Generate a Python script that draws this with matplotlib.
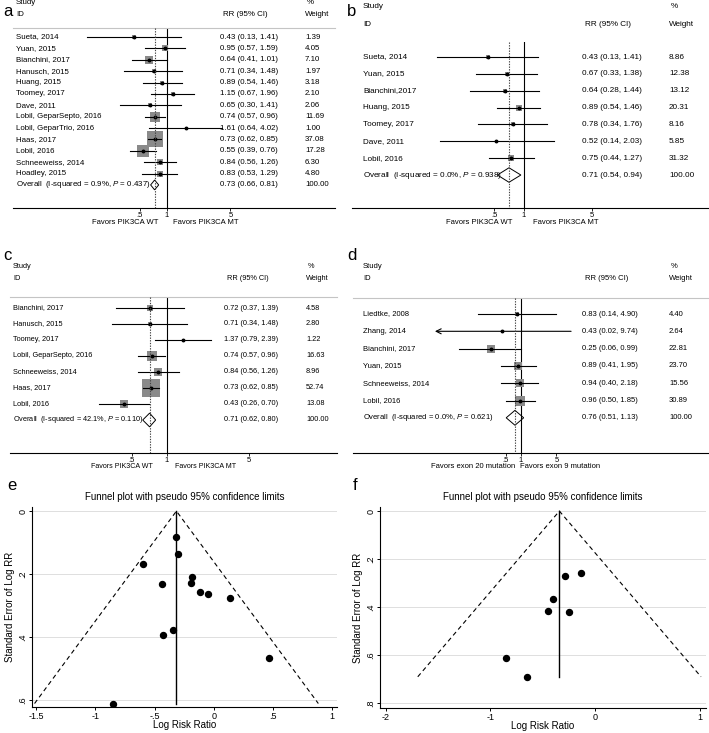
import numpy as np
import matplotlib
matplotlib.use('Agg')
import matplotlib.pyplot as plt
import matplotlib.transforms as mtransforms
from matplotlib.patches import Polygon
from matplotlib.ticker import NullLocator

plt.rcParams['font.family'] = ['Liberation Sans', 'DejaVu Sans']
plt.rcParams['mathtext.fontset'] = 'custom'
plt.rcParams['mathtext.it'] = 'Liberation Sans:italic'
plt.rcParams['mathtext.rm'] = 'Liberation Sans'

# ---- data: forest plots ----
a_studies = ["Sueta, 2014", "Yuan, 2015", "Bianchini, 2017", "Hanusch, 2015", "Huang, 2015",
             "Toomey, 2017", "Dave, 2011", "Lobil, GeparSepto, 2016", "Lobil, GeparTrio, 2016",
             "Haas, 2017", "Lobil, 2016", "Schneeweiss, 2014", "Hoadley, 2015"]
a_rr = [0.43, 0.95, 0.64, 0.71, 0.89, 1.15, 0.65, 0.74, 1.61, 0.73, 0.55, 0.84, 0.83]
a_lo = [0.13, 0.57, 0.41, 0.34, 0.54, 0.67, 0.30, 0.57, 0.64, 0.62, 0.39, 0.56, 0.53]
a_hi = [1.41, 1.59, 1.01, 1.48, 1.46, 1.96, 1.41, 0.96, 4.02, 0.85, 0.76, 1.26, 1.29]
a_w = [1.39, 4.05, 7.10, 1.97, 3.18, 2.10, 2.06, 11.69, 1.00, 37.08, 17.28, 6.30, 4.80]
a_overall = [0.73, 0.66, 0.81]
a_het = ["0.9%", "0.437"]

b_studies = ["Sueta, 2014", "Yuan, 2015", "Bianchini,2017", "Huang, 2015", "Toomey, 2017",
             "Dave, 2011", "Lobil, 2016"]
b_rr = [0.43, 0.67, 0.64, 0.89, 0.78, 0.52, 0.75]
b_lo = [0.13, 0.33, 0.28, 0.54, 0.34, 0.14, 0.44]
b_hi = [1.41, 1.38, 1.44, 1.46, 1.76, 2.03, 1.27]
b_w = [8.86, 12.38, 13.12, 20.31, 8.16, 5.85, 31.32]
b_overall = [0.71, 0.54, 0.94]
b_het = ["0.0%", "0.938"]

c_studies = ["Bianchini, 2017", "Hanusch, 2015", "Toomey, 2017", "Lobil, GeparSepto, 2016",
             "Schneeweiss, 2014", "Haas, 2017", "Lobil, 2016"]
c_rr = [0.72, 0.71, 1.37, 0.74, 0.84, 0.73, 0.43]
c_lo = [0.37, 0.34, 0.79, 0.57, 0.56, 0.62, 0.26]
c_hi = [1.39, 1.48, 2.39, 0.96, 1.26, 0.85, 0.70]
c_w = [4.58, 2.80, 1.22, 16.63, 8.96, 52.74, 13.08]
c_overall = [0.71, 0.62, 0.80]
c_het = ["42.1%", "0.110"]

d_studies = ["Liedtke, 2008", "Zhang, 2014", "Bianchini, 2017", "Yuan, 2015",
             "Schneeweiss, 2014", "Lobil, 2016"]
d_rr = [0.83, 0.43, 0.25, 0.89, 0.94, 0.96]
d_lo = [0.14, 0.02, 0.06, 0.41, 0.40, 0.50]
d_hi = [4.90, 9.74, 0.99, 1.95, 2.18, 1.85]
d_w = [4.40, 2.64, 22.81, 23.70, 15.56, 30.89]
d_overall = [0.76, 0.51, 1.13]
d_het = ["0.0%", "0.621"]

favors_pik = ["Favors PIK3CA WT", "Favors PIK3CA MT"]
favors_exon = ["Favors exon 20 mutation", "Favors exon 9 mutation"]
forest_ticks = [0.5, 1, 5]
forest_ticklabels = [".5", "1", "5"]

# ---- data: funnel plots ----
e_logrr = [-0.32, -0.30, -0.60, -0.18, -0.44, -0.19, -0.12, -0.05, 0.14, -0.34, -0.43, 0.47, -0.85]
e_se = [0.083, 0.135, 0.168, 0.208, 0.230, 0.227, 0.256, 0.262, 0.275, 0.377, 0.394, 0.468, 0.611]
e_center = -0.315
f_logrr = [-0.13, -0.29, -0.40, -0.45, -0.25, -0.85, -0.65]
f_se = [0.256, 0.270, 0.368, 0.418, 0.419, 0.610, 0.690]
f_center = -0.34

W, H = 709, 733
fig = plt.figure(figsize=(W / 100, H / 100), dpi=100)


def add_ax(x0, y0, x1, y1):
    return fig.add_axes([x0 / W, 1 - y1 / H, (x1 - x0) / W, (y1 - y0) / H])


def ftext(x, y, s, **kw):
    kw.setdefault('va', 'center')
    fig.text(x / W, 1 - y / H, s, **kw)


def forest(studies, rr, lo, hi, w, ov, het, favors, box, x_one, scale, row0, step, box_k,
           cols, head, fav, fs, fav_fs, header_line=True, arrow_below=None):
    x0, y_top, x1, y_bot = box
    ax = add_ax(x0, y_top, x1, y_bot)
    ax.set_xscale('log')
    ax.set_xlim(np.exp((x0 - x_one) / scale), np.exp((x1 - x_one) / scale))
    ax.set_ylim(y_bot, y_top)
    tr = mtransforms.blended_transform_factory(fig.transFigure, ax.transData)
    ys = row0 + step * np.arange(len(studies) + 1)

    for i in range(len(studies)):
        y = ys[i]
        side = box_k * np.sqrt(w[i]) * 0.72
        ax.scatter(rr[i], y, s=side ** 2, marker='s', color='#8a8a8a', linewidths=0, zorder=2)
        if arrow_below is not None and lo[i] < arrow_below:
            ax.annotate('', xy=(lo[i], y), xytext=(hi[i], y),
                        arrowprops=dict(arrowstyle='->', lw=0.8, color='black',
                                        shrinkA=0, shrinkB=0, mutation_scale=9))
        else:
            ax.plot([lo[i], hi[i]], [y, y], color='black', lw=0.8, zorder=3)
        ax.plot(rr[i], y, 'o', ms=1.8, color='black', zorder=4)
        ax.text(cols[0] / W, y, studies[i], transform=tr, va='center', fontsize=fs)
        ax.text(cols[1] / W, y, f"{rr[i]:.2f} ({lo[i]:.2f}, {hi[i]:.2f})", transform=tr,
                va='center', fontsize=fs)
        ax.text(cols[2] / W, y, f"{w[i]:.2f}", transform=tr, va='center', fontsize=fs)

    yo = ys[-1]
    est, l, h = ov
    hh = 0.43 * step
    ax.add_patch(Polygon([(l, yo), (est, yo - hh), (h, yo), (est, yo + hh)], closed=True,
                         fc='none', ec='black', lw=0.7, zorder=5))
    ax.text(cols[0] / W, yo, f"Overall  (I-squared = {het[0]}, $P$ = {het[1]})",
            transform=tr, va='center', fontsize=fs)
    ax.text(cols[1] / W, yo, f"{est:.2f} ({l:.2f}, {h:.2f})", transform=tr, va='center', fontsize=fs)
    ax.text(cols[2] / W, yo, "100.00", transform=tr, va='center', fontsize=fs)

    ax.plot([1, 1], [y_top, y_bot], color='black', lw=0.8, zorder=1)
    ax.plot([est, est], [y_top, y_bot], color='#444444', lw=0.8, ls=(0, (1.2, 1.2)), zorder=6)

    for s in ['left', 'right']:
        ax.spines[s].set_visible(False)
    ax.spines['top'].set_visible(header_line)
    ax.spines['top'].set_color('#c4c4c4')
    ax.spines['top'].set_linewidth(0.8)
    ax.spines['bottom'].set_linewidth(0.8)
    ax.set_xticks(forest_ticks)
    ax.set_xticklabels(forest_ticklabels)
    ax.xaxis.set_minor_locator(NullLocator())
    ax.tick_params(axis='x', length=2.5, width=0.6, labelsize=5.5, pad=0.5)
    ax.set_yticks([])

    ftext(cols[0], head[0], "Study", fontsize=fs)
    ftext(cols[0], head[1], "ID", fontsize=fs)
    ftext(cols[1] + 3, head[1], "RR (95% CI)", fontsize=fs)
    ftext(cols[2] + 2, head[0], "%", fontsize=fs)
    ftext(cols[2], head[1], "Weight", fontsize=fs)
    ftext(fav[0], fav[2], favors[0], ha='right', fontsize=fav_fs)
    ftext(fav[1], fav[2], favors[1], ha='left', fontsize=fav_fs)


def funnel(logrr, se, center, box, xlim, ylim, xticks, xlabels, yticks, ylabels):
    x0, y0, x1, y1 = box
    ax = add_ax(x0, y0, x1, y1)
    se_max = max(se)
    ax.plot([center - 1.96 * se_max, center, center + 1.96 * se_max], [se_max, 0, se_max],
            color='black', lw=0.8, ls=(0, (4, 3)))
    ax.plot([center, center], [0, se_max], color='black', lw=1.0)
    ax.plot(logrr, se, 'o', color='black', ms=4.3)
    ax.set_xlim(*xlim)
    ax.set_ylim(*ylim)
    ax.set_xticks(xticks)
    ax.set_xticklabels(xlabels)
    ax.set_yticks(yticks)
    ax.set_yticklabels(ylabels, rotation=90, va='center')
    ax.grid(axis='y', color='#dedede', lw=0.7)
    ax.set_axisbelow(True)
    for s in ['top', 'right']:
        ax.spines[s].set_visible(False)
    for s in ['left', 'bottom']:
        ax.spines[s].set_linewidth(0.8)
    ax.tick_params(labelsize=6.5, length=2.5, width=0.7, pad=1)
    ax.set_title("Funnel plot with pseudo 95% confidence limits", fontsize=7.0, pad=5)
    ax.set_xlabel("Log Risk Ratio", fontsize=7.0, labelpad=-0.5)
    ax.set_ylabel("Standard Error of Log RR", fontsize=7.0, labelpad=2)
    return ax


forest(a_studies, a_rr, a_lo, a_hi, a_w, a_overall, a_het, favors_pik,
       box=(13, 28, 335, 208), x_one=167, scale=39.4, row0=37, step=11.38, box_k=2.65,
       cols=(16, 220, 305), head=(3, 15), fav=(158, 173, 223), fs=5.7, fav_fs=5.5)
forest(b_studies, b_rr, b_lo, b_hi, b_w, b_overall, b_het, favors_pik,
       box=(352, 42, 709, 208), x_one=523.5, scale=42.4, row0=57, step=16.86, box_k=1.2,
       cols=(363, 582, 669), head=(7, 24), fav=(512, 533, 223), fs=5.9, fav_fs=5.5,
       header_line=False)
forest(c_studies, c_rr, c_lo, c_hi, c_w, c_overall, c_het, favors_pik,
       box=(10, 297, 337, 453), x_one=167, scale=50.8, row0=308, step=16, box_k=2.4,
       cols=(13, 224, 306), head=(266, 279), fav=(153, 175, 467), fs=5.3, fav_fs=5.1)
forest(d_studies, d_rr, d_lo, d_hi, d_w, d_overall, d_het, favors_exon,
       box=(353, 298, 709, 453), x_one=521, scale=22, row0=314, step=17.3, box_k=1.8,
       cols=(363, 582, 669), head=(266, 279), fav=(515, 520, 467), fs=5.5, fav_fs=5.5,
       arrow_below=0.05)

funnel(e_logrr, e_se, e_center, (32, 507, 337, 707), (-1.534, 1.04), (0.622, -0.013),
       [-1.5, -1, -0.5, 0, 0.5, 1], ["-1.5", "-1", "-.5", "0", ".5", "1"],
       [0, 0.2, 0.4, 0.6], ["0", ".2", ".4", ".6"])
funnel(f_logrr, f_se, f_center, (380, 507, 706, 708), (-2.053, 1.06), (0.82, -0.017),
       [-2, -1, 0, 1], ["-2", "-1", "0", "1"],
       [0, 0.2, 0.4, 0.6, 0.8], ["0", ".2", ".4", ".6", ".8"])

for lab, x, y in [("a", 3, 11), ("b", 347, 11), ("c", 3, 255), ("d", 347, 255),
                  ("e", 7, 485), ("f", 353, 485)]:
    ftext(x, y, lab, fontsize=12)

fig.savefig("out.png", dpi=100)
